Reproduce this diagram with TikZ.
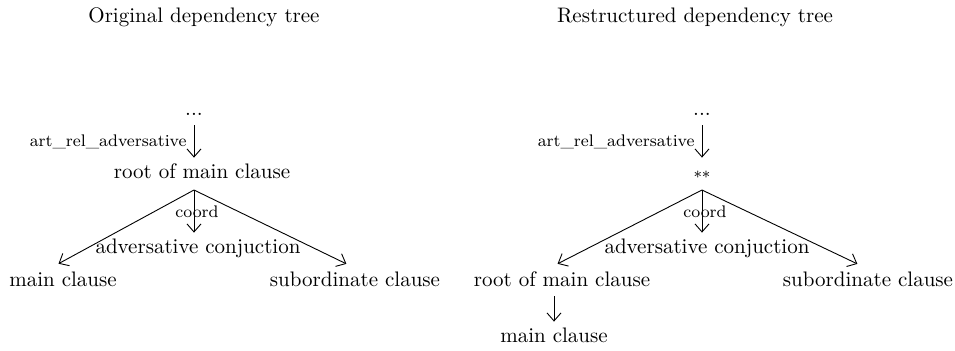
\documentclass[tikz,border=0pt]{standalone}
\usetikzlibrary{arrows.meta}
\begin{document}
\begin{tikzpicture}[x=0.5pt,y=-0.5pt,
  every node/.style={font=\fontsize{10.5}{12.6}\selectfont},
  word/.style={inner sep=3pt, text height=7pt, text depth=2pt},
  rel/.style={font=\fontsize{8.4}{10}\selectfont, inner sep=1pt},
  dep/.style={-{Straight Barb[length=4pt,width=7pt]}, line width=0.45pt},
  branch/.style={dep, shorten >=2pt}]
\useasboundingbox (0,0) rectangle (955,350);

% ---- original tree ----
\node (t1) at (204,17) {Original dependency tree};
\node[word] (d1) at (194,110) {...};
\node[word] (r1) at (202,173) {root of main clause};
\coordinate (h1) at (194,190);
\node[word] (a1) at (198,248) {adversative conjuction};
\node[word] (m1) at (63,281) {main clause};
\node[word] (s1) at (355,281) {subordinate clause};

\draw[dep] (d1.south) -- node[rel, left, xshift=-2.5pt] {art\_rel\_adversative} (d1.south |- r1.north);
\draw[branch] (h1) -- ([xshift=-4pt]m1.north);
\draw[dep] (h1) -- node[rel, pos=0.5, xshift=1.5pt] {coord} (h1 |- a1.north);
\draw[branch] (h1) -- ([xshift=-2.5pt]s1.north);

% ---- restructured tree ----
\node (t2) at (695,17) {Restructured dependency tree};
\node[word] (d2) at (702,110) {...};
\node[word] (r2) at (702,173) {\footnotesize$\ast\ast$};
\coordinate (h2) at (702,190);
\node[word] (a2) at (707,248) {adversative conjuction};
\node[word] (m2) at (562,281) {root of main clause};
\node[word] (s2) at (868,281) {subordinate clause};
\node[word] (c2) at (554,337) {main clause};

\draw[dep] (d2.south) -- node[rel, left, xshift=-2.5pt] {art\_rel\_adversative} (d2.south |- r2.north);
\draw[branch] (h2) -- ([xshift=-4pt]m2.north);
\draw[dep] (h2) -- node[rel, pos=0.5, xshift=1.5pt] {coord} (h2 |- a2.north);
\draw[branch] (h2) -- ([xshift=-3.5pt]s2.north);
\draw[dep] (c2.north |- m2.south) -- (c2.north);
\end{tikzpicture}
\end{document}
